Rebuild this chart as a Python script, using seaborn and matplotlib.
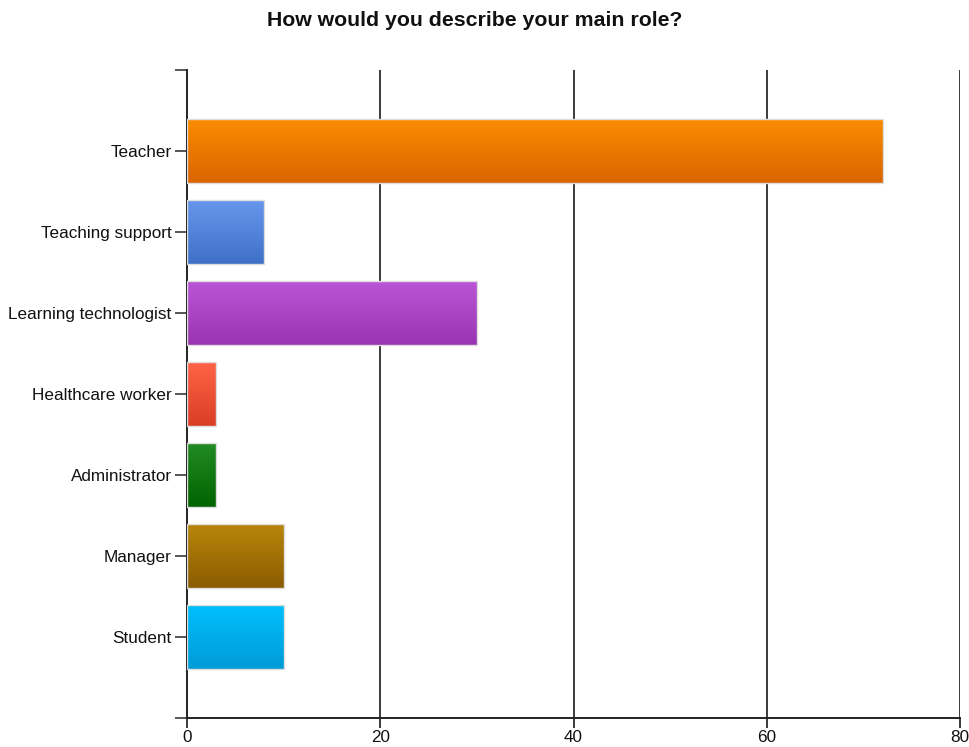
import numpy as np
import pandas as pd
import matplotlib
matplotlib.use("Agg")
import matplotlib.pyplot as plt
from matplotlib.colors import LinearSegmentedColormap
import seaborn as sns

roles = ["Teacher", "Teaching support", "Learning technologist",
         "Healthcare worker", "Administrator", "Manager", "Student"]
counts = [72, 8, 30, 3, 3, 10, 10]
top_colors = ["#FB8C00", "#6796EC", "#BA56D6", "#FF6347", "#238B23", "#B8860B", "#00BFFF"]
bottom_colors = ["#DA6400", "#3F70C8", "#9A35B1", "#DA3E25", "#006400", "#8B5C00", "#009CD6"]
x_ticks = [0, 20, 40, 60, 80]

df = pd.DataFrame({"role": roles, "count": counts})

sns.set_theme(style="white")
plt.rcParams["font.family"] = ["Liberation Sans", "DejaVu Sans"]

fig = plt.figure(figsize=(9.69, 7.47), dpi=100)
ax = fig.add_axes([187 / 969, 29 / 747, 773 / 969, 648 / 747])

sns.barplot(data=df, x="count", y="role", hue="role", palette=top_colors,
            orient="h", width=0.78, legend=False, ax=ax,
            edgecolor="#DDDDDD", linewidth=1.0, zorder=2)

# vertical gradient fill for each bar
for patch, c_top, c_bot in zip(ax.patches, top_colors, bottom_colors):
    x0, y0 = patch.get_x(), patch.get_y()
    w, h = patch.get_width(), patch.get_height()
    cmap = LinearSegmentedColormap.from_list("g", [c_top, c_bot])
    grad = np.linspace(0, 1, 128).reshape(-1, 1)
    im = ax.imshow(grad, cmap=cmap, aspect="auto", origin="upper",
                   extent=(x0, x0 + w, y0 + h, y0), zorder=2.5)
    im.set_clip_path(patch)
    patch.set_facecolor("none")
    patch.set_zorder(3)

ax.set_xlim(0, 80)
ax.set_ylim(len(roles), -1)
ax.set_xticks(x_ticks)
ax.set_xticklabels([str(t) for t in x_ticks])
ax.set_yticks([-1, len(roles)], minor=True)

for t in x_ticks[1:]:
    ax.axvline(t, color="#3A3A3A", linewidth=1.4, zorder=1)

for side in ["top", "right"]:
    ax.spines[side].set_visible(False)
for side in ["left", "bottom"]:
    ax.spines[side].set_color("#222222")
    ax.spines[side].set_linewidth(1.4)

ax.tick_params(axis="x", which="major", length=7, width=1.4, color="#3A3A3A",
               labelsize=12.3, pad=2, bottom=True)
ax.tick_params(axis="y", which="both", length=9, width=1.2, color="#3A3A3A",
               labelsize=12.3, pad=2, left=True)
ax.set_xlabel("")
ax.set_ylabel("")
for lbl in ax.get_xticklabels() + ax.get_yticklabels():
    lbl.set_color("#111111")

fig.text(0.49, 0.972, "How would you describe your main role?",
         ha="center", va="center", fontsize=15.3, fontweight="bold", color="#111111")

fig.savefig("out.png", dpi=100, facecolor="white")
